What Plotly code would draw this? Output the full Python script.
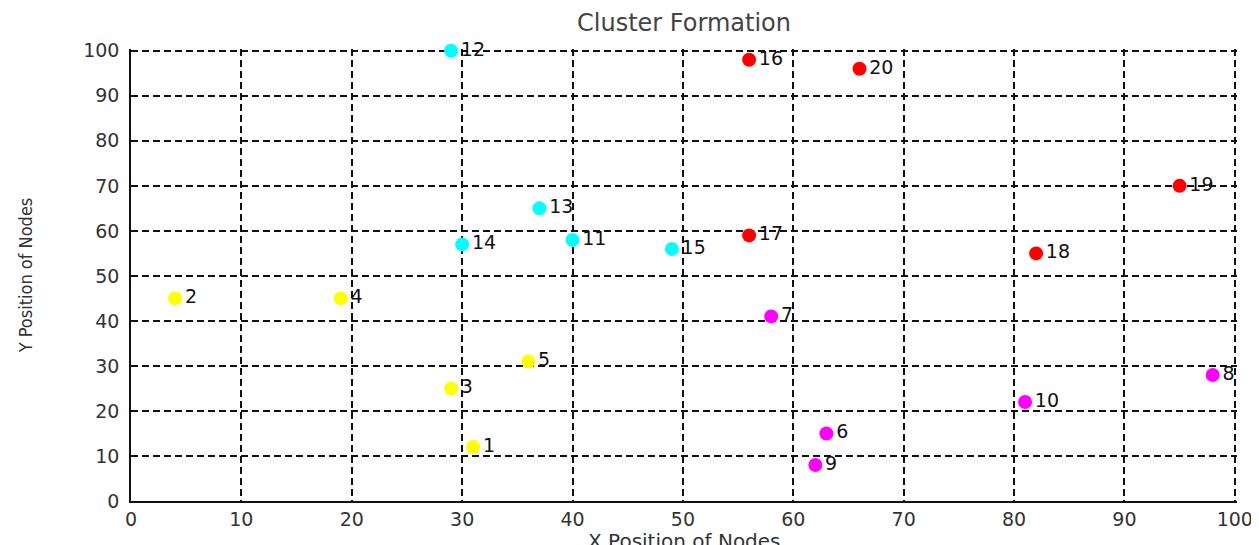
import plotly.graph_objects as go

node_ids = [1, 2, 3, 4, 5, 6, 7, 8, 9, 10, 11, 12, 13, 14, 15, 16, 17, 18, 19, 20]
x_pos = [31, 4, 29, 19, 36, 63, 58, 98, 62, 81, 40, 29, 37, 30, 49, 56, 56, 82, 95, 66]
y_pos = [12, 45, 25, 45, 31, 15, 41, 28, 8, 22, 58, 100, 65, 57, 56, 98, 59, 55, 70, 96]
cluster = [0, 0, 0, 0, 0, 1, 1, 1, 1, 1, 2, 2, 2, 2, 2, 3, 3, 3, 3, 3]
cluster_colors = ["#ffff00", "#ff00ff", "#00ffff", "#ff0000"]
tick_vals = [0, 10, 20, 30, 40, 50, 60, 70, 80, 90, 100]

fig = go.Figure()
for c, col in enumerate(cluster_colors):
    idx = [i for i, k in enumerate(cluster) if k == c]
    fig.add_trace(go.Scatter(
        x=[x_pos[i] for i in idx],
        y=[y_pos[i] for i in idx],
        text=[str(node_ids[i]) for i in idx],
        mode="markers+text",
        textposition="middle right",
        textfont=dict(family="DejaVu Sans, Arial", size=19, color="#111111"),
        marker=dict(color=col, size=14, line=dict(width=0)),
        cliponaxis=False,
        showlegend=False,
    ))

axis_common = dict(
    tickmode="array",
    tickvals=tick_vals,
    ticktext=[str(v) for v in tick_vals],
    showgrid=True,
    gridcolor="#111111",
    griddash="7px,4px",
    gridwidth=1.6,
    zeroline=False,
    showline=True,
    linecolor="#111111",
    linewidth=1.6,
    mirror=False,
    ticks="",
    tickfont=dict(family="DejaVu Sans, Arial", size=19, color="#333333"),
    automargin=False,
)

fig.update_layout(
    width=1251, height=537,
    margin=dict(l=123, r=22, t=41, b=44),
    paper_bgcolor="white",
    plot_bgcolor="white",
    title=dict(text="Cluster Formation", x=0.5, xref="paper", y=1 - 15 / 537,
               yanchor="middle", xanchor="center",
               font=dict(family="DejaVu Sans, Arial", size=24, color="#444444")),
    xaxis=dict(axis_common, range=[0, 100.2], ticklabelstandoff=0),
    yaxis=dict(axis_common, range=[0, 100.4], ticklabelstandoff=6,
               title=dict(text="Y Position of Nodes", standoff=46,
                          font=dict(family="DejaVu Sans Condensed, Liberation Sans Narrow, Arial",
                                    size=18, color="#333333"))),
    annotations=[dict(
        text="X Position of Nodes", xref="paper", yref="paper",
        x=0.5, y=0, xanchor="center", yanchor="middle", yshift=-40,
        showarrow=False,
        font=dict(family="DejaVu Sans, Arial", size=20, color="#333333"),
    )],
)

fig.write_html("out.html")
